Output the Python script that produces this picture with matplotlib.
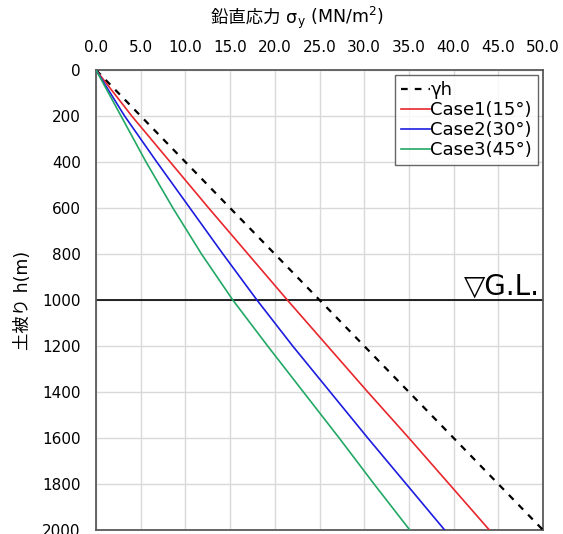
import matplotlib as mpl
mpl.use('Agg')
import matplotlib.pyplot as plt
import matplotlib.ticker as ticker
from matplotlib.offsetbox import TextArea, HPacker, AnnotationBbox
import numpy as np

plt.rcParams['font.family'] = ['DejaVu Sans', 'Noto Sans CJK JP']
plt.rcParams['mathtext.fontset'] = 'dejavusans'

# depth h (m)
depth = [0, 200, 400, 600, 800, 1000, 1200, 1400, 1600, 1800, 2000]
# vertical stress (MN/m2)
gamma_h = [0.0, 5.0, 10.0, 15.0, 20.0, 25.0, 30.0, 35.0, 40.0, 45.0, 50.0]
case1 = [0.0, 4.0, 8.3, 12.6, 17.0, 21.4, 25.9, 30.4, 35.0, 39.5, 44.0]
case2 = [0.0, 3.2, 6.8, 10.5, 14.2, 18.0, 22.0, 26.2, 30.4, 34.7, 39.0]
case3 = [0.0, 2.8, 5.6, 8.6, 11.8, 15.3, 19.2, 23.2, 27.2, 31.1, 35.1]
labels = ['γh', 'Case1(15°)', 'Case2(30°)', 'Case3(45°)']
gl_depth = 1000

fig = plt.figure(figsize=(5.63, 5.34), dpi=100)
ax = fig.add_axes([96/563, 1-530/534, (543-96)/563, (530-70)/534])

ax.plot(gamma_h, depth, color='black', lw=1.6, ls=(0, (3.0, 3.2)), label=labels[0], zorder=3)
ax.plot(case1, depth, color='#e8262b', lw=1.2, label=labels[1], zorder=3)
ax.plot(case2, depth, color='#1c1ce0', lw=1.2, label=labels[2], zorder=3)
ax.plot(case3, depth, color='#22a865', lw=1.2, label=labels[3], zorder=3)
ax.axhline(gl_depth, color='black', lw=1.2, zorder=2)
ax.text(49.6, gl_depth - 25, '▽G.L.', fontsize=20, ha='right', va='baseline')

ax.set_xlim(0, 50)
ax.set_ylim(2000, 0)
ax.xaxis.set_major_locator(ticker.MultipleLocator(5))
ax.xaxis.set_major_formatter(ticker.FormatStrFormatter('%.1f'))
ax.yaxis.set_major_locator(ticker.MultipleLocator(200))
ax.xaxis.tick_top()
ax.tick_params(axis='x', length=0, pad=11, labelsize=11)
ax.tick_params(axis='y', length=0, pad=11, labelsize=11)
ax.grid(True, color='#d9d9d9', lw=1, zorder=0)
ax.set_axisbelow(True)
for s in ax.spines.values():
    s.set_color('#595959')
    s.set_linewidth(1.3)

leg = ax.legend(loc='upper right', fontsize=13, handlelength=1.6, handletextpad=0.05,
                labelspacing=0.12, borderpad=0.3, borderaxespad=0.3, fancybox=False,
                frameon=True, edgecolor='#404040')
leg.get_frame().set_linewidth(1.0)

# x-axis title: CJK part as plain text, sub/superscripts via mathtext
t1 = TextArea('鉛直応力 σ', textprops=dict(fontsize=12.5))
t2 = TextArea('$_{\\mathregular{y}}$ (MN/m$^{\\mathregular{2}}$)', textprops=dict(fontsize=12.5))
box = HPacker(children=[t1, t2], align='baseline', pad=0, sep=0)
ab = AnnotationBbox(box, (297/563, 1-18/534), xycoords='figure fraction',
                    frameon=False, box_alignment=(0.5, 0.5))
fig.add_artist(ab)

fig.text(23/563, 1-300/534, '土被り h(m)', ha='center', va='center', rotation=90, fontsize=12.5)

fig.savefig('out.png', dpi=100)
